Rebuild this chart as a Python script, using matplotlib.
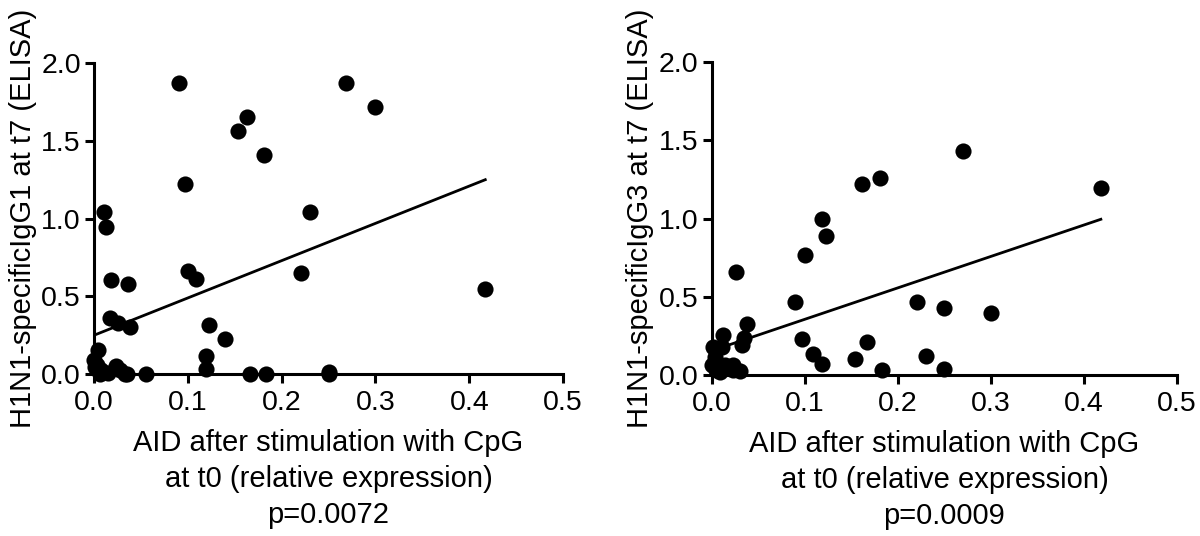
import matplotlib
matplotlib.use("Agg")
import matplotlib.pyplot as plt
import numpy as np

plt.rcParams['font.family'] = ['Liberation Sans', 'DejaVu Sans']

# left panel: IgG1
aid_g1 = [0.091, 0.269, 0.300, 0.154, 0.163, 0.181, 0.097, 0.011, 0.0125, 0.230,
          0.100, 0.1085, 0.018, 0.036, 0.221, 0.417, 0.017, 0.026, 0.038, 0.123,
          0.140, 0.119, 0.119, 0.166, 0.183, 0.250, 0.250, 0.055, 0.004, 0.0,
          0.003, 0.008, 0.015, 0.023, 0.028, 0.033, 0.035, 0.006, 0.001]
igg1 = [1.876, 1.876, 1.721, 1.567, 1.652, 1.410, 1.221, 1.041, 0.944, 1.043,
        0.665, 0.612, 0.605, 0.577, 0.648, 0.545, 0.358, 0.326, 0.300, 0.315,
        0.223, 0.116, 0.036, 0.0, 0.0, 0.015, 0.0, 0.0, 0.155, 0.09,
        0.058, 0.026, 0.005, 0.05, 0.026, 0.0, 0.0, 0.0, 0.047]
fit_g1 = (0.25, 2.4)   # intercept, slope

# right panel: IgG3
aid_g3 = [0.270, 0.162, 0.181, 0.418, 0.119, 0.1225, 0.100, 0.026, 0.090, 0.221,
          0.250, 0.300, 0.0375, 0.0346, 0.033, 0.0975, 0.109, 0.119, 0.154, 0.167,
          0.230, 0.183, 0.250, 0.0118, 0.001, 0.011, 0.004, 0.0, 0.005, 0.014,
          0.0196, 0.023, 0.030, 0.023, 0.009]
igg3 = [1.432, 1.223, 1.262, 1.196, 1.0, 0.891, 0.770, 0.660, 0.470, 0.466,
        0.428, 0.398, 0.326, 0.236, 0.191, 0.234, 0.138, 0.074, 0.104, 0.209,
        0.121, 0.036, 0.040, 0.260, 0.181, 0.181, 0.117, 0.064, 0.032, 0.064,
        0.053, 0.032, 0.028, 0.064, 0.021]
fit_g3 = (0.156, 2.01)

panels = [
    (aid_g1, igg1, fit_g1, "H1N1-specificIgG1 at t7 (ELISA)", "p=0.0072", [0.0783, 0.302, 0.391, 0.580]),
    (aid_g3, igg3, fit_g3, "H1N1-specificIgG3 at t7 (ELISA)", "p=0.0009", [0.593, 0.300, 0.388, 0.584]),
]

fig = plt.figure(figsize=(12, 5.36), dpi=100)

for xs, ys, fit, ylab, pval, rect in panels:
    ax = fig.add_axes(rect)
    ax.scatter(xs, ys, s=135, color='black', zorder=3, clip_on=False, linewidths=0)
    xl = np.array([0.0, max(xs)])
    ax.plot(xl, fit[0] + fit[1] * xl, color='black', lw=2.0, zorder=2)
    ax.set_xlim(0, 0.5)
    ax.set_ylim(0, 2.0)
    ax.set_xticks([0.0, 0.1, 0.2, 0.3, 0.4, 0.5])
    ax.set_xticklabels(["0.0", "0.1", "0.2", "0.3", "0.4", "0.5"])
    ax.set_yticks([0.0, 0.5, 1.0, 1.5, 2.0])
    ax.set_yticklabels(["0.0", "0.5", "1.0", "1.5", "2.0"])
    for side in ['top', 'right']:
        ax.spines[side].set_visible(False)
    for side in ['left', 'bottom']:
        ax.spines[side].set_linewidth(2.2)
    ax.tick_params(width=2.2, length=6.5, labelsize=20.5, pad=3)
    ax.tick_params(axis='x', pad=5)
    ax.set_xlabel("AID after stimulation with CpG\nat t0 (relative expression)\n" + pval,
                  fontsize=21, linespacing=1.38, labelpad=9)
    ax.set_ylabel(ylab, fontsize=21, labelpad=3)

plt.savefig("out.png", dpi=100)
